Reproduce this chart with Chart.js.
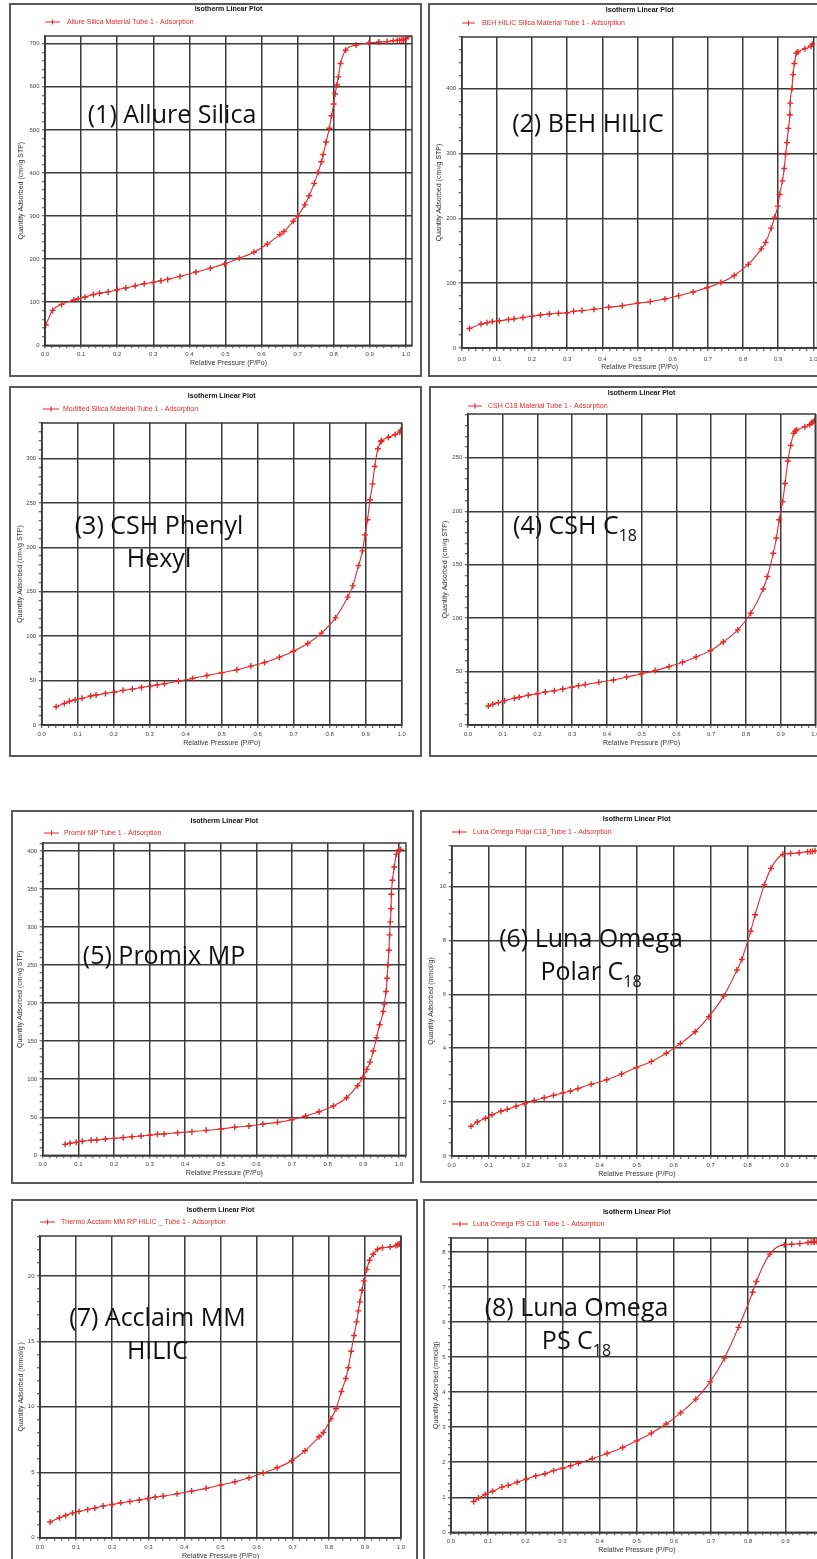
<!DOCTYPE html>
<html lang="en">
<head>
<meta charset="UTF-8">
<title>Isotherm Linear Plots</title>
<script src="https://cdn.jsdelivr.net/npm/chart.js"></script>
<style>
  html, body { margin: 0; padding: 0; }
  body {
    width: 817px;
    height: 1559px;
    overflow: hidden;
    background: #fff;
    position: relative;
    font-family: "Liberation Sans", Arial, sans-serif;
  }
  canvas { position: absolute; }
  .frame {
    position: absolute;
    border: 2px solid #5a5a5a;
    box-sizing: border-box;
    pointer-events: none;
  }
  .tag {
    position: absolute;
    font-family: "Open Sans", sans-serif;
    font-size: 25px;
    line-height: 32.5px;
    color: #111;
    white-space: nowrap;
    text-align: center;
    transform: translateX(-50%);
  }
  .tag sub {
    font-size: 16px;
    line-height: 0;
    vertical-align: -7px;
  }
</style>
</head>
<body>
<script>
// ---- data (x = P/Po, y = quantity adsorbed) ----
const allureP = [0.002,0.021,0.046,0.080,0.092,0.111,0.134,0.151,0.175,0.200,0.224,0.250,0.275,0.300,0.321,0.340,0.374,0.418,0.458,0.498,0.538,0.579,0.616,0.651,0.662,0.688,0.700,0.720,0.732,0.746,0.757,0.766,0.771,0.779,0.788,0.794,0.800,0.804,0.809,0.813,0.819,0.833,0.862,0.898,0.925,0.948,0.965,0.976,0.983,0.989,0.994,1.000,1.006];
const allureQ = [47,81,95,105,108,112,118,121,124,129,133,138,143,146,150,153,160,170,179,189,202,216,235,257,264,288,300,326,347,376,402,426,443,472,504,533,560,584,605,623,654,685,697,702,704,705,707,708,708,709,709,712,716];

const behP = [0.022,0.055,0.072,0.087,0.107,0.133,0.149,0.174,0.200,0.224,0.249,0.275,0.300,0.318,0.342,0.376,0.418,0.457,0.500,0.536,0.578,0.617,0.658,0.698,0.737,0.775,0.815,0.852,0.864,0.880,0.890,0.899,0.904,0.912,0.917,0.921,0.925,0.929,0.933,0.934,0.939,0.942,0.946,0.952,0.956,0.976,0.993,0.997];
const behQ = [30,37,39,41,42,44,45,47,49,51,52.5,53.5,54.5,56.6,57.7,59.7,62.8,65.4,69,71.6,75.7,80.8,86.5,93.2,101,112,129,153,163,185,202,219,237,258,277,299,317,339,360,378,400,422,439,455,457,462,466,469];

const phenylP = [0.040,0.063,0.077,0.093,0.112,0.136,0.151,0.177,0.202,0.226,0.252,0.277,0.302,0.321,0.341,0.380,0.419,0.459,0.500,0.542,0.581,0.619,0.660,0.699,0.739,0.777,0.816,0.850,0.864,0.880,0.891,0.898,0.905,0.912,0.919,0.925,0.934,0.942,0.944,0.963,0.982,0.995,0.998];
const phenylQ = [20.6,24.3,26.6,28.5,30,32.6,33.7,35.6,37,39,40.4,42.3,43.8,45.3,46.4,49.4,52.4,55.8,58.8,62.2,66.3,70.4,76.4,83.1,91.8,103.4,120.6,144,156.6,179.4,196,214,231,253.6,271.5,291,311,319,320,324,327,330,332];

const cshP = [0.059,0.072,0.088,0.106,0.134,0.148,0.174,0.200,0.223,0.249,0.273,0.299,0.319,0.338,0.377,0.419,0.457,0.499,0.539,0.579,0.618,0.657,0.698,0.735,0.777,0.814,0.850,0.862,0.879,0.888,0.896,0.906,0.913,0.921,0.929,0.938,0.942,0.946,0.970,0.984,0.989,0.994,0.998];
const cshQ = [17.8,19.4,20.9,22.8,25,25.9,27.8,29.3,30.9,32.1,33.7,35.3,36.8,37.8,39.9,42.1,44.9,47.8,50.9,54.6,58.7,63.7,69.6,77.7,89,104.6,127.3,138.9,160.7,175,192,209,226,247,261.5,273,275,276,279,281,282.5,283.7,285];

const promixP = [0.063,0.077,0.094,0.111,0.136,0.152,0.176,0.200,0.226,0.251,0.276,0.300,0.322,0.341,0.379,0.419,0.459,0.500,0.539,0.579,0.618,0.659,0.699,0.738,0.776,0.816,0.853,0.884,0.899,0.910,0.919,0.928,0.937,0.946,0.956,0.959,0.964,0.967,0.969,0.972,0.974,0.976,0.978,0.979,0.982,0.987,0.993,1.000,1.005];
const promixQ = [14.4,15.8,17,18.4,19.7,20.1,21.4,22.3,23.2,24.5,25.4,26.3,27.6,28,29.8,31.1,32.8,34.6,36.8,38.5,41.1,43.3,46.8,51.6,57.3,64.8,75.7,91.5,102.4,112.9,122.5,137,154.5,171.6,189,198.7,215.3,232.8,250.3,269.6,289.7,306.8,324.3,343.1,361.5,379,395.6,401.3,401.8];

const polarP = [0.052,0.069,0.091,0.109,0.133,0.150,0.174,0.198,0.223,0.250,0.275,0.300,0.321,0.341,0.377,0.419,0.459,0.499,0.540,0.580,0.618,0.658,0.695,0.735,0.771,0.784,0.808,0.820,0.845,0.863,0.895,0.916,0.939,0.962,0.969,0.975,0.982];
const polarQ = [1.10,1.26,1.40,1.53,1.66,1.73,1.85,1.95,2.06,2.16,2.25,2.34,2.41,2.50,2.66,2.83,3.04,3.28,3.51,3.81,4.17,4.61,5.17,5.93,6.90,7.29,8.34,8.95,10.06,10.67,11.19,11.22,11.25,11.29,11.29,11.30,11.32];

const acclaimP = [0.028,0.054,0.071,0.090,0.108,0.132,0.152,0.175,0.200,0.224,0.249,0.275,0.299,0.319,0.341,0.380,0.420,0.460,0.500,0.540,0.579,0.618,0.657,0.697,0.734,0.773,0.785,0.806,0.820,0.835,0.847,0.854,0.862,0.870,0.877,0.882,0.886,0.892,0.897,0.905,0.913,0.923,0.935,0.949,0.970,0.986,0.991,0.995];
const acclaimQ = [1.20,1.53,1.70,1.88,2.01,2.16,2.26,2.42,2.54,2.67,2.77,2.88,3.00,3.10,3.18,3.36,3.56,3.77,4.02,4.27,4.58,4.94,5.34,5.88,6.64,7.71,8.04,9.08,9.85,11.17,12.16,12.98,14.25,15.45,16.49,17.33,18.02,18.91,19.62,20.48,21.20,21.65,22.04,22.16,22.21,22.32,22.39,22.44];

const psP = [0.061,0.074,0.092,0.112,0.137,0.154,0.178,0.203,0.228,0.253,0.276,0.300,0.322,0.343,0.380,0.420,0.462,0.500,0.539,0.579,0.618,0.659,0.698,0.736,0.774,0.812,0.822,0.858,0.897,0.917,0.939,0.961,0.969,0.975,0.979,0.985];
const psQ = [0.88,0.98,1.08,1.17,1.29,1.34,1.43,1.52,1.61,1.67,1.76,1.83,1.90,1.97,2.10,2.25,2.42,2.61,2.83,3.09,3.41,3.80,4.30,4.97,5.85,6.85,7.16,7.94,8.21,8.22,8.24,8.27,8.28,8.29,8.29,8.30];

const legendNames = [
  'Allure Silica Material Tube 1 - Adsorption',
  'BEH HILIC Silica Material Tube 1 - Adsorption',
  'Modified Silica Material Tube 1 - Adsorption',
  'CSH C18 Material Tube 1 - Adsorption',
  'Promix MP Tube 1 - Adsorption',
  'Luna Omega Polar C18_Tube 1 - Adsorption',
  'Thermo Acclaim MM RP HILIC _ Tube 1 - Adsorption',
  'Luna Omega PS C18  Tube 1 - Adsorption'
];
const yTitles = [
  'Quantity Adsorbed (cm\u00b3/g STP)', 'Quantity Adsorbed (cm\u00b3/g STP)',
  'Quantity Adsorbed (cm\u00b3/g STP)', 'Quantity Adsorbed (cm\u00b3/g STP)',
  'Quantity Adsorbed (cm\u00b3/g STP)', 'Quantity Adsorbed (mmol/g)',
  'Quantity Adsorbed (mmol/g )', 'Quantity Adsorbed (mmol/g)'
];
const tagLines = [
  '(1) Allure Silica',
  '(2) BEH HILIC',
  '(3) CSH Phenyl<br>Hexyl',
  '(4) CSH C<sub>18</sub>',
  '(5) Promix MP',
  '(6) Luna Omega<br>Polar C<sub>18</sub>',
  '(7) Acclaim MM<br>HILIC',
  '(8) Luna Omega<br>PS C<sub>18</sub>'
];
const yMax   = [718, 480, 340, 291, 410.5, 11.5, 23.05, 8.4];
const xMax   = [1.017, 1.012, 1.0, 1.0, 1.02, 1.0, 1.0, 1.0];
const yMajor = [100, 100, 50, 50, 50, 2, 5, 1];
const yMinor = [20, 20, 10, 10, 10, 0.5, 1, 0.2];

const RED = '#e42a2a';
const GRID = '#3a3a3a';
const FONT = '"Liberation Sans", Arial, sans-serif';

// page geometry of each panel: box [l,t,w,h], plot [l,t,r,b], text rows
const layout = [
  { box: [10, 4, 411, 372],   plot: [45, 36, 412, 345.3],      titleY: 9.5,  legY: 22,   leg: [45, 60, 67],    yTitleX: 20.7,  xTickY: 354.3,  xTitleY: 363.3,  tag: [172, 123] },
  { box: [429, 4, 400, 372],  plot: [461.7, 37, 817.6, 348],   titleY: 10,   legY: 23,   leg: [462, 475, 482], yTitleX: 439.3, xTickY: 359,    xTitleY: 366.7,  tag: [588, 132] },
  { box: [10, 387, 411, 369], plot: [41.7, 423, 401.7, 725],   titleY: 396,  legY: 409,  leg: [43, 59, 63],    yTitleX: 20,    xTickY: 734.3,  xTitleY: 743.3,  tag: [159, 534] },
  { box: [430, 387, 400, 369],plot: [467.8, 414, 815.3, 725],  titleY: 393,  legY: 406,  leg: [468, 482, 488], yTitleX: 445,   xTickY: 734.3,  xTitleY: 742.7,  tag: [575, 534] },
  { box: [12, 811, 401, 372], plot: [42.7, 843, 406, 1155.3],  titleY: 821,  legY: 833,  leg: [44, 59, 64],    yTitleX: 20,    xTickY: 1164.3, xTitleY: 1173.3, tag: [164, 964] },
  { box: [421, 811, 410, 371],plot: [451.7, 846, 821.7, 1156], titleY: 819,  legY: 832,  leg: [452, 467, 473], yTitleX: 431,   xTickY: 1165.7, xTitleY: 1174.3, tag: [591, 947] },
  { box: [12, 1200, 405, 370],plot: [40, 1236, 401, 1537.7],   titleY: 1210, legY: 1222, leg: [40, 55, 61],    yTitleX: 20.7,  xTickY: 1547.3, xTitleY: 1555.7, tag: [157.5, 1326] },
  { box: [424, 1200, 410, 370],plot: [451, 1238, 822.5, 1532.3],titleY: 1212, legY: 1224, leg: [452, 468, 473], yTitleX: 435.7, xTickY: 1541,   xTitleY: 1550,   tag: [576.5, 1316] }
];

const series = [
  [allureP, allureQ], [behP, behQ], [phenylP, phenylQ], [cshP, cshQ],
  [promixP, promixQ], [polarP, polarQ], [acclaimP, acclaimQ], [psP, psQ]
];

Chart.defaults.font.family = FONT;

function isMajor(v, step) {
  const r = v / step;
  return Math.abs(r - Math.round(r)) < 1e-6;
}

// title, legend line and plot frame
const headerPlugin = {
  id: 'header',
  afterDraw(chart, args, o) {
    const { ctx, chartArea: a } = chart;
    ctx.save();
    ctx.strokeStyle = GRID;
    ctx.lineWidth = 1.5;
    ctx.strokeRect(a.left, a.top, a.right - a.left, a.bottom - a.top);

    ctx.fillStyle = '#111';
    ctx.font = 'bold 7px ' + FONT;
    ctx.textAlign = 'center';
    ctx.textBaseline = 'middle';
    ctx.fillText('Isotherm Linear Plot', (a.left + a.right) / 2, o.titleY);

    ctx.strokeStyle = RED;
    ctx.lineWidth = 1.2;
    ctx.beginPath();
    ctx.moveTo(o.x1, o.legY);
    ctx.lineTo(o.x2, o.legY);
    const mx = (o.x1 + o.x2) / 2;
    ctx.moveTo(mx, o.legY - 2.5);
    ctx.lineTo(mx, o.legY + 2.5);
    ctx.stroke();

    ctx.fillStyle = RED;
    ctx.font = '7px ' + FONT;
    ctx.textAlign = 'left';
    ctx.fillText(o.text, o.textX, o.legY);
    ctx.restore();
  }
};

layout.forEach((L, i) => {
  const [bl, bt, bw, bh] = L.box;
  const [pl, pt, pr, pb] = L.plot;

  const cv = document.createElement('canvas');
  cv.width = bw;
  cv.height = bh;
  cv.style.left = bl + 'px';
  cv.style.top = bt + 'px';
  document.body.appendChild(cv);

  const fr = document.createElement('div');
  fr.className = 'frame';
  fr.style.left = (bl - 1) + 'px';
  fr.style.top = (bt - 1) + 'px';
  fr.style.width = (bw + 2) + 'px';
  fr.style.height = (bh + 2) + 'px';
  document.body.appendChild(fr);

  const yWidth = pl - bl;
  const xHeight = bh - (pb - bt);
  const lh = 7 * 1.2;
  const tickPad = (L.xTickY - pb) - 3 - 3.6;

  const [xs, ys] = series[i];
  new Chart(cv, {
    type: 'scatter',
    data: {
      datasets: [{
        data: xs.map((v, k) => ({ x: v, y: ys[k] })),
        showLine: true,
        borderColor: RED,
        borderWidth: 1.1,
        cubicInterpolationMode: 'monotone',
        pointStyle: 'cross',
        pointRadius: 3,
        pointBorderWidth: 1.4,
        pointBorderColor: RED,
        pointBackgroundColor: RED
      }]
    },
    options: {
      responsive: false,
      animation: false,
      layout: { padding: { left: 0, top: pt - bt, right: bw - (pr - bl), bottom: 0 } },
      plugins: {
        legend: { display: false },
        tooltip: { enabled: false },
        header: {
          titleY: L.titleY - bt, legY: L.legY - bt,
          x1: L.leg[0] - bl, x2: L.leg[1] - bl, textX: L.leg[2] - bl,
          text: legendNames[i]
        }
      },
      scales: {
        x: {
          type: 'linear',
          min: 0,
          max: xMax[i],
          afterFit: s => { s.height = xHeight; },
          ticks: {
            stepSize: 0.02,
            autoSkip: false,
            maxRotation: 0,
            includeBounds: false,
            padding: tickPad,
            color: '#444',
            font: { size: 6 },
            callback: v => isMajor(v, 0.1) ? v.toFixed(1) : ''
          },
          grid: {
            color: c => (c.tick && isMajor(c.tick.value, 0.1)) ? GRID : 'rgba(0,0,0,0)',
            lineWidth: 1.5,
            tickColor: '#444',
            tickWidth: 1,
            tickLength: 3
          },
          border: { color: GRID, width: 1.5 },
          title: {
            display: true,
            text: 'Relative Pressure (P/Po)',
            color: '#333',
            font: { size: 7 },
            padding: { top: 0, bottom: bh - (L.xTitleY - bt) - lh / 2 }
          }
        },
        y: {
          type: 'linear',
          min: 0,
          max: yMax[i],
          afterFit: s => { s.width = yWidth; },
          ticks: {
            stepSize: yMinor[i],
            autoSkip: false,
            includeBounds: false,
            padding: 2.5,
            color: '#444',
            font: { size: 6 },
            callback: v => isMajor(v, yMajor[i]) ? String(v) : ''
          },
          grid: {
            color: c => (c.tick && isMajor(c.tick.value, yMajor[i])) ? GRID : 'rgba(0,0,0,0)',
            lineWidth: 1.5,
            tickColor: '#444',
            tickWidth: 1,
            tickLength: 3
          },
          border: { color: GRID, width: 1.5 },
          title: {
            display: true,
            text: yTitles[i],
            color: '#333',
            font: { size: 7 },
            padding: { top: (L.yTitleX - bl) - lh / 2, bottom: 0 }
          }
        }
      }
    },
    plugins: [headerPlugin]
  });

  const tag = document.createElement('div');
  tag.className = 'tag';
  tag.innerHTML = tagLines[i];
  tag.style.left = L.tag[0] + 'px';
  tag.style.top = (L.tag[1] - 25.95) + 'px';
  document.body.appendChild(tag);
});
</script>
</body>
</html>
